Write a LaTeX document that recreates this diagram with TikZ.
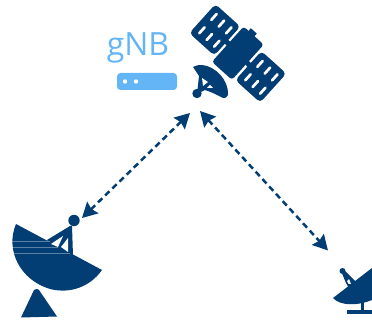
\documentclass[tikz,border=0pt]{standalone}
\usepackage{fontspec}
\setmainfont{Open Sans}
\usepackage{xcolor}
\usetikzlibrary{arrows.meta}
\definecolor{dishblue}{HTML}{023E73}
\definecolor{gnbblue}{HTML}{64B5F6}
\tikzset{
  link/.style={draw=dishblue, line width=2.5pt, dash pattern=on 6pt off 4pt,
    {Stealth[length=15pt,width=16pt,inset=2pt]}-{Stealth[length=15pt,width=16pt,inset=2pt]}},
  dishfill/.style={fill=dishblue, draw=none},
  cutout/.style={fill=white, draw=none},
  slit/.style={draw=white, line width=2.7pt, line cap=round},
  seam/.style={draw=white, opacity=0.35, line width=0.6pt}
}
\begin{document}
\begin{tikzpicture}[x=1pt,y=-1pt]
\useasboundingbox (0,0) rectangle (372,320);

\node[text=gnbblue, font=\fontsize{32}{32}\selectfont, inner sep=0pt] (gnb label) at (138,48) {gNB};
\fill[gnbblue, rounded corners=3.5pt] (117,73) rectangle (177,90);
\foreach \dotx in {125,136}
  \fill[white] (\dotx,81.5) circle (2.2);

\draw[dishblue, line width=5pt] (215,30) -- (261,77);
\foreach \panelx/\panely in {215/30,261/77}
{
  \begin{scope}[shift={(\panelx,\panely)},rotate=-42]
    \fill[dishblue, rounded corners=4pt] (-17,-19.5) rectangle (16.5,19.5);
    \foreach \u in {-9.5,0.5,10.5}
      \foreach \v in {-9,9}
        \draw[slit] (\u,\v-4) -- (\u,\v+4);
  \end{scope}
}
\begin{scope}[shift={(238,53)},rotate=-42]
  \fill[dishblue, rounded corners=3pt] (-13.5,-23.5) rectangle (13.5,24);
  \fill[dishblue] (-7,-27) rectangle (1,-22);
\end{scope}

\fill[dishfill] (193,67) .. controls (197,65) and (200,65) .. (202,65)
  .. controls (215,66) and (229,80) .. (228,95) .. controls (227,98) and (225,98) .. (223,98)
  .. controls (219,96) and (214,93) .. (205,90) -- (197,94) -- (199,76) -- cycle;
\fill[dishfill] (197,93.5) circle (4.7);
\fill[cutout] (202,78) -- (208,82) -- (203,86) -- cycle;
\fill[cutout] (207,88) -- (213,88) -- (210,85) -- cycle;

\coordinate (sat left) at (190,113);
\coordinate (sat right) at (200,111);
\coordinate (ground left) at (82,218);
\coordinate (ground right) at (328,250.5);
\draw[link] (sat left) -- (ground left);
\draw[link] (sat right) -- (ground right);

\fill[dishfill] (16,224) .. controls (5,250) and (20,280) .. (50,289)
  .. controls (70,294) and (90,287) .. (102,270) -- cycle;
\fill[dishfill] (47,240) -- (70,226) -- (72,226) -- (73,256) -- (55,250) -- cycle;
\fill[dishfill] (74,220.5) circle (5.7);
\fill[cutout] (51,244) -- (63,236) -- (58,247) -- cycle;
\fill[cutout] (61,247) -- (68,238) -- (68,252) -- cycle;
\draw[seam] (11,241) -- (50,241);
\draw[seam] (11,247) -- (58,247);
\draw[seam] (13,253) -- (70,253);
\fill[dishfill] (34,290) .. controls (36,288) and (38,289) .. (39,290) -- (57,316.5) -- (21,317.5) -- cycle;

\fill[dishfill] (333,298) -- (372,268) -- (372,300) .. controls (358,306) and (340,306) .. cycle;
\fill[dishfill] (346,283) -- (341,271) -- (345,271) -- (358,284) -- (350,290) -- cycle;
\fill[dishfill] (342.5,271) circle (3);
\fill[cutout] (347,281) -- (348.5,284) -- (351,284) -- (349,279) -- cycle;
\fill[dishfill] (360.5,300) rectangle (363.5,311);
\fill[dishfill] (347,310) rectangle (372,314);
\end{tikzpicture}
\end{document}
